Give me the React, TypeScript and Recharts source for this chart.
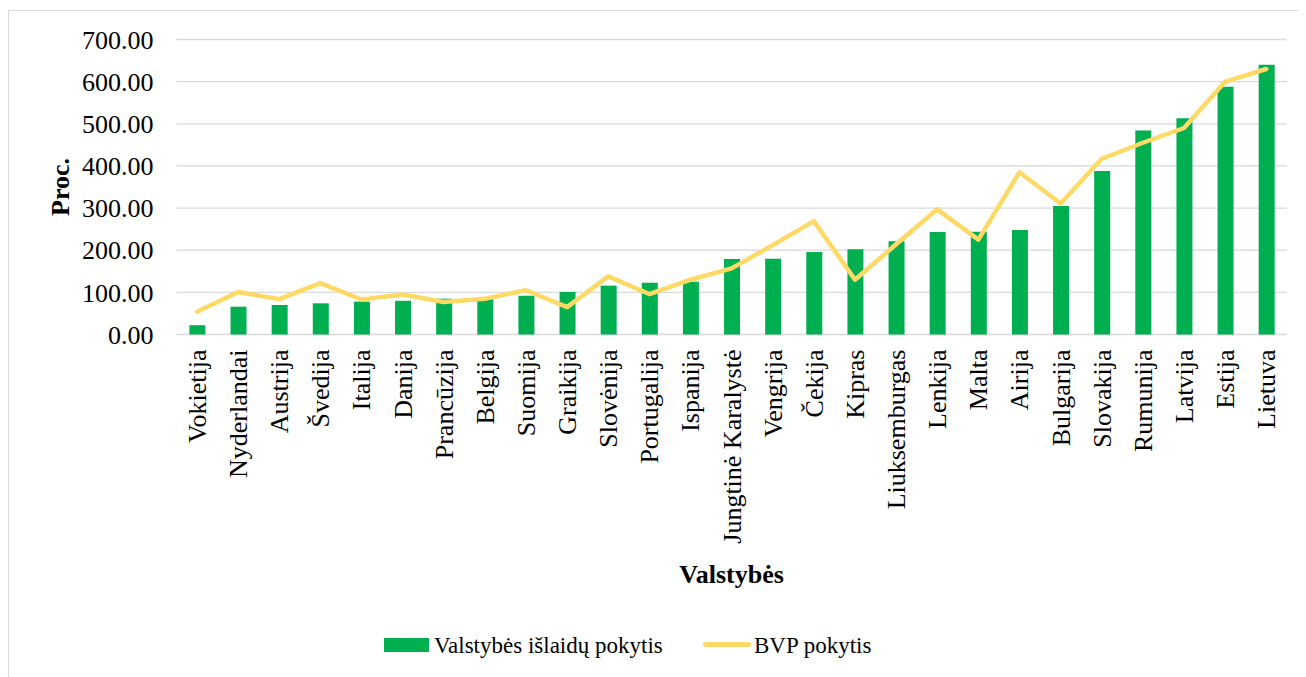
import React from 'react';
import {
  ComposedChart,
  Bar,
  Line,
  XAxis,
  YAxis,
  CartesianGrid,
} from 'recharts';

const countries = [
  'Vokietija', 'Nyderlandai', 'Austrija', 'Švedija', 'Italija', 'Danija',
  'Prancūzija', 'Belgija', 'Suomija', 'Graikija', 'Slovėnija', 'Portugalija',
  'Ispanija', 'Jungtinė Karalystė', 'Vengrija', 'Čekija', 'Kipras',
  'Liuksemburgas', 'Lenkija', 'Malta', 'Airija', 'Bulgarija', 'Slovakija',
  'Rumunija', 'Latvija', 'Estija', 'Lietuva',
];

const spendingChange = [
  22, 66, 70, 74, 78, 80, 85, 89, 92, 101, 116, 123, 125, 179, 180, 196, 202,
  221, 243, 244, 248, 305, 388, 484, 513, 588, 640,
];

const gdpChange = [
  54, 101, 84, 122, 83, 95, 77, 85, 105, 65, 138, 96, 130, 157, 212, 269, 130,
  214, 297, 225, 385, 311, 417, 455, 490, 600, 630,
];

const yTicks = [0, 100, 200, 300, 400, 500, 600, 700];

const data = countries.map((name, i) => ({
  name,
  spending: spendingChange[i],
  gdp: gdpChange[i],
}));

const FONT = '"Liberation Serif", "Times New Roman", serif';
const GREEN = '#00B050';
const YELLOW = '#FFD966';
const GRID = '#D9D9D9';

function CountryTick(props: any) {
  const { x, y, payload } = props;
  return (
    <text
      x={x}
      y={y}
      dy={9}
      transform={`rotate(-90, ${x}, ${y})`}
      textAnchor="end"
      fontFamily={FONT}
      fontSize={26}
      fill="#000"
    >
      {payload.value}
    </text>
  );
}

export default function App() {
  return (
    <div style={{ position: 'relative', width: 1298, height: 669, overflow: 'hidden' }}>
      <div
        style={{
          position: 'absolute',
          left: 0,
          top: 2,
          width: 1320,
          height: 700,
          border: `1px solid ${GRID}`,
        }}
      />
      <ComposedChart
        width={1298}
        height={669}
        data={data}
        margin={{ top: 31.5, right: 19.2, left: 0, bottom: 0 }}
        style={{ position: 'absolute', left: 0, top: 0 }}
      >
        <CartesianGrid vertical={false} stroke={GRID} strokeWidth={1.3} />
        <XAxis
          dataKey="name"
          interval={0}
          height={342.5}
          axisLine={false}
          tickLine={false}
          tickSize={0}
          tickMargin={15}
          tick={<CountryTick />}
          label={(p: any) => {
            const vb = p.viewBox;
            return (
              <text
                x={vb.x + vb.width / 2}
                y={vb.y + 248}
                textAnchor="middle"
                fontFamily={FONT}
                fontSize={26}
                fontWeight="bold"
                fill="#000"
              >
                Valstybės
              </text>
            );
          }}
        />
        <YAxis
          width={168.4}
          domain={[0, 700]}
          ticks={yTicks}
          axisLine={false}
          tickLine={false}
          tickSize={0}
          tickMargin={23}
          tickFormatter={(v: number) => v.toFixed(2)}
          tick={{ fontFamily: FONT, fontSize: 26, fill: '#000' }}
          label={(p: any) => {
            const vb = p.viewBox;
            const cx = vb.x + 52;
            const cy = vb.y + vb.height / 2;
            return (
              <text
                x={cx}
                y={cy}
                transform={`rotate(-90, ${cx}, ${cy})`}
                textAnchor="middle"
                dominantBaseline="central"
                fontFamily={FONT}
                fontSize={26}
                fontWeight="bold"
                fill="#000"
              >
                Proc.
              </text>
            );
          }}
        />
        <Bar dataKey="spending" fill={GREEN} barSize={16} isAnimationActive={false} />
        <Line
          dataKey="gdp"
          stroke={YELLOW}
          strokeWidth={4.5}
          strokeLinecap="round"
          strokeLinejoin="round"
          dot={false}
          activeDot={false}
          type="linear"
          isAnimationActive={false}
        />
      </ComposedChart>
      <div
        style={{
          position: 'absolute',
          left: 0,
          top: 0,
          fontFamily: FONT,
          fontSize: 23,
          color: '#000',
          lineHeight: 1,
        }}
      >
        <div style={{ position: 'absolute', left: 376, top: 630, width: 45, height: 14, background: GREEN }} />
        <div style={{ position: 'absolute', left: 426, top: 626, whiteSpace: 'nowrap' }}>
          Valstybės išlaidų pokytis
        </div>
        <div
          style={{
            position: 'absolute',
            left: 695,
            top: 634,
            width: 48,
            height: 4.5,
            borderRadius: 3,
            background: YELLOW,
          }}
        />
        <div style={{ position: 'absolute', left: 746, top: 626, whiteSpace: 'nowrap' }}>
          BVP pokytis
        </div>
      </div>
    </div>
  );
}
